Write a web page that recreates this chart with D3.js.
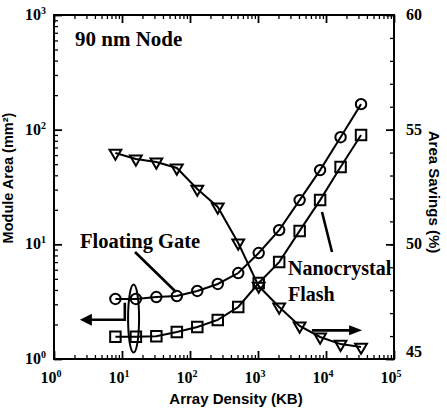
<!DOCTYPE html>
<html>
<head>
<meta charset="utf-8">
<script src="https://cdn.jsdelivr.net/npm/d3@7"></script>
<style>
  body { margin: 0; background: #fff; }
  svg { display: block; }
  .tick-label { font-family: "Liberation Serif", serif; font-weight: bold; font-size: 16px; }
  .axis-title { font-family: "Liberation Sans", Arial, sans-serif; font-weight: bold; }
  .note { font-family: "Liberation Serif", serif; }
</style>
</head>
<body>
<svg id="chart"></svg>
<script>
// array density in KB (x), powers of two from 8 KB to 32 MB
const densityKB = [8, 16, 32, 64, 128, 256, 512, 1024, 2048, 4096, 8192, 16384, 32768];

// module area in mm^2 (left axis, log)
const floatingGateArea = [3.34, 3.34, 3.47, 3.54, 3.92, 4.51, 5.62, 8.4, 13.3, 24.3, 44.4, 86, 167];
const nanocrystalArea = [1.56, 1.56, 1.58, 1.72, 1.9, 2.19, 2.84, 4.6, 7.0, 13.1, 24.3, 47.2, 89.7];

// area savings in % (right axis, linear)
const areaSavings = [53.98, 53.72, 53.59, 53.33, 52.41, 51.63, 50.06, 48.18, 47.27, 46.44, 45.96, 45.65, 45.52];

// tick labels
const xTickExp = [0, 1, 2, 3, 4, 5];
const yLeftTickExp = [0, 1, 2, 3];
const yRightTicks = [45, 50, 55, 60];

class areaSavingsVis {

    constructor(_config) {
        this.config = {
            parentElement: _config.parentElement,
            containerWidth: _config.containerWidth || 447,
            containerHeight: _config.containerHeight || 417,
        }
        this.config.margin = _config.margin || { top: 15, bottom: 58, right: 53, left: 54 }

        this.width = this.config.containerWidth - this.config.margin.left - this.config.margin.right;
        this.height = this.config.containerHeight - this.config.margin.top - this.config.margin.bottom;

        this.svg = d3.select(this.config.parentElement)
            .attr('width', this.config.containerWidth)
            .attr('height', this.config.containerHeight);

        this.chart = this.svg.append('g')
            .attr('transform', `translate(${this.config.margin.left},${this.config.margin.top})`);

        this.initVis();
    }

    initVis() {
        let vis = this;

        vis.xScale = d3.scaleLog().domain([1, 1e5]).range([0, vis.width]);
        vis.yScale = d3.scaleLog().domain([1, 1e3]).range([vis.height, 0]);
        vis.yRightScale = d3.scaleLinear().domain([45, 60]).range([vis.height, 0]);

        vis.render();
    }

    // ticks pointing inside the frame, major longer than minor
    drawTicks(axisFn, scale, major, minor, transform) {
        let vis = this;
        vis.chart.append('g')
            .attr('transform', transform)
            .call(axisFn(scale).tickValues(minor).tickSize(-4).tickFormat(''))
            .call(g => g.select('.domain').remove())
            .call(g => g.selectAll('line').attr('stroke-width', 1.3));
        vis.chart.append('g')
            .attr('transform', transform)
            .call(axisFn(scale).tickValues(major).tickSize(-8).tickFormat(''))
            .call(g => g.select('.domain').remove())
            .call(g => g.selectAll('line').attr('stroke-width', 1.8));
    }

    render() {
        let vis = this;
        let W = vis.width, H = vis.height;

        let logMinor = (lo, hi) => d3.range(lo, hi).flatMap(e => d3.range(2, 10).map(m => m * Math.pow(10, e)));
        let xMajor = xTickExp.map(e => Math.pow(10, e));
        let yMajor = yLeftTickExp.map(e => Math.pow(10, e));

        vis.drawTicks(d3.axisBottom, vis.xScale, xMajor, logMinor(0, 5), `translate(0,${H})`);
        vis.drawTicks(d3.axisTop, vis.xScale, xMajor, logMinor(0, 5), 'translate(0,0)');
        vis.drawTicks(d3.axisLeft, vis.yScale, yMajor, logMinor(0, 3), 'translate(0,0)');
        vis.drawTicks(d3.axisRight, vis.yRightScale, yRightTicks, d3.range(45, 61), `translate(${W},0)`);

        vis.chart.append('rect')
            .attr('width', W)
            .attr('height', H)
            .attr('fill', 'none')
            .attr('stroke', '#000')
            .attr('stroke-width', 2);

        // tick labels with superscript exponents
        let powerLabel = (sel) => {
            sel.append('tspan').text('10');
            sel.append('tspan').text(d => d).attr('font-size', 10).attr('dy', -6);
        };

        vis.chart.selectAll('.x-label')
            .data(xTickExp)
            .join('text')
            .attr('class', 'tick-label x-label')
            .attr('x', d => vis.xScale(Math.pow(10, d)) - 3)
            .attr('y', H + 24)
            .attr('text-anchor', 'middle')
            .call(powerLabel);

        vis.chart.selectAll('.y-label')
            .data(yLeftTickExp)
            .join('text')
            .attr('class', 'tick-label y-label')
            .attr('x', -8)
            .attr('y', d => vis.yScale(Math.pow(10, d)) + 5)
            .attr('text-anchor', 'end')
            .call(powerLabel);

        vis.chart.selectAll('.yr-label')
            .data(yRightTicks)
            .join('text')
            .attr('class', 'tick-label yr-label')
            .attr('x', W + 12)
            .attr('y', d => vis.yRightScale(d) + 5 - (d === 45 ? 7 : 0))
            .text(d => d);

        // axis titles
        vis.chart.append('text')
            .attr('class', 'axis-title')
            .attr('x', 182)
            .attr('y', H + 45)
            .attr('text-anchor', 'middle')
            .attr('font-size', 15)
            .text('Array Density (KB)');

        vis.chart.append('text')
            .attr('class', 'axis-title')
            .attr('transform', `translate(-41,${163}) rotate(-90)`)
            .attr('text-anchor', 'middle')
            .attr('font-size', 14.5)
            .text('Module Area (mm²)');

        vis.chart.append('text')
            .attr('class', 'axis-title')
            .attr('transform', `translate(${W + 35},${177}) rotate(90)`)
            .attr('text-anchor', 'middle')
            .attr('font-size', 15)
            .text('Area Savings (%)');

        // series
        let series = [
            { values: floatingGateArea, y: vis.yScale, shape: 'circle' },
            { values: nanocrystalArea, y: vis.yScale, shape: 'square' },
            { values: areaSavings, y: vis.yRightScale, shape: 'triangle' },
        ];

        let symbols = {
            circle: d3.symbol().type(d3.symbolCircle).size(85),
            square: d3.symbol().type(d3.symbolSquare).size(110),
            triangle: d3.symbol().type(d3.symbolTriangle).size(60),
        };

        let groups = vis.chart.selectAll('.series')
            .data(series)
            .join('g')
            .attr('class', 'series');

        groups.append('path')
            .attr('fill', 'none')
            .attr('stroke', '#000')
            .attr('stroke-width', 2)
            .attr('d', s => d3.line()
                .x((d, i) => vis.xScale(densityKB[i]))
                .y(d => s.y(d))(s.values));

        groups.each(function (s) {
            d3.select(this).selectAll('.marker')
                .data(s.values)
                .join('path')
                .attr('class', 'marker')
                .attr('d', symbols[s.shape])
                .attr('transform', (d, i) => `translate(${vis.xScale(densityKB[i])},${s.y(d)})` +
                    (s.shape === 'triangle' ? ' rotate(180)' : ''))
                .attr('fill', 'none')
                .attr('stroke', '#000')
                .attr('stroke-width', 2);
        });

        // annotations
        vis.chart.append('text')
            .attr('class', 'note')
            .attr('x', 21)
            .attr('y', 31)
            .attr('font-size', 21)
            .attr('font-weight', 'bold')
            .text('90 nm Node');

        vis.chart.append('text')
            .attr('class', 'note')
            .attr('x', 26)
            .attr('y', 233)
            .attr('font-size', 20.5)
            .attr('font-weight', 'bold')
            .text('Floating Gate');

        let nano = vis.chart.append('text')
            .attr('class', 'note')
            .attr('font-size', 20)
            .attr('font-weight', 'bold');
        nano.append('tspan').attr('x', 234).attr('y', 260).text('Nanocrystal');
        nano.append('tspan').attr('x', 234).attr('y', 286).text('Flash');

        let pen = (d) => vis.chart.append('path')
            .attr('d', d)
            .attr('fill', 'none')
            .attr('stroke', '#000')
            .attr('stroke-width', 2.6);

        pen('M81,237 L122,277');
        pen('M268,197 L278,237');

        // ellipse around the 16 KB points and the left-pointing arrow
        vis.chart.append('ellipse')
            .attr('cx', vis.xScale(14.8))
            .attr('cy', vis.yScale(2.25))
            .attr('rx', 5.5)
            .attr('ry', 34)
            .attr('fill', 'none')
            .attr('stroke', '#000')
            .attr('stroke-width', 2);

        let ya = vis.yScale(2.2);
        pen(`M${vis.xScale(11)},${vis.yScale(3.1)} L${vis.xScale(11)},${ya} L${vis.xScale(2.8)},${ya}`);
        vis.chart.append('path')
            .attr('d', `M${vis.xScale(2.4)},${ya} l12,-6 l0,12 z`);

        // right-pointing arrow toward the savings axis
        let yb = vis.yRightScale(46.25);
        pen(`M${vis.xScale(6200)},${yb} L${vis.xScale(28000)},${yb}`);
        vis.chart.append('path')
            .attr('d', `M${vis.xScale(34000)},${yb} l-13,-5 l0,10 z`);
    }
}

new areaSavingsVis({ parentElement: '#chart' });
</script>
</body>
</html>
